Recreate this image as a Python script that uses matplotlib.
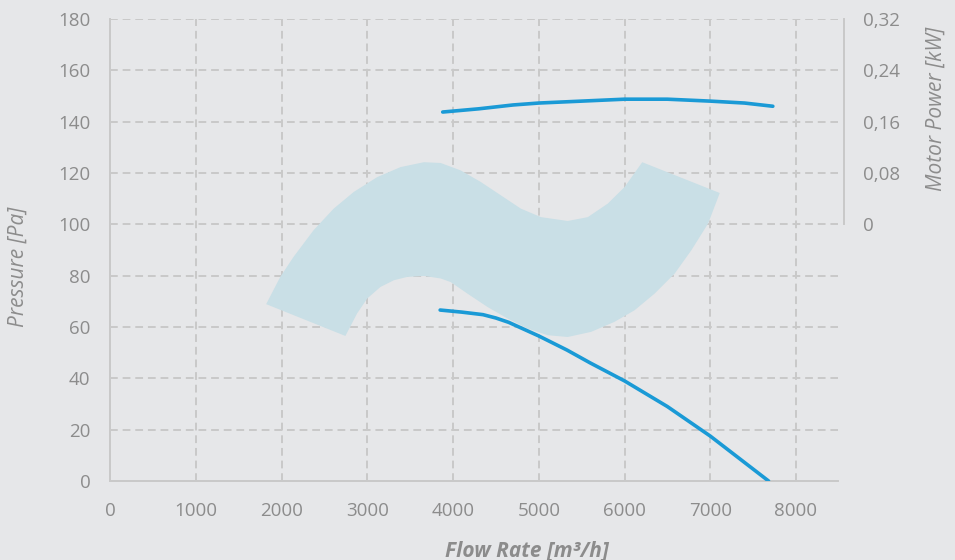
import matplotlib

matplotlib.use("Agg")
import matplotlib.pyplot as plt

plt.rcParams["font.family"] = ["Open Sans", "DejaVu Sans"]

BG = "#e6e7e9"
GRID = "#c9c9c9"
TEXT = "#8c8c8c"
BLUE = "#1a9ad6"
ZONE = "#c9dfe6"

# pressure curve, Pa over m3/h
flow = [3850, 4100, 4350, 4500, 4650, 5000, 5330, 5600, 6000, 6500, 7000, 7680]
pressure = [66.6, 65.8, 64.8, 63.5, 61.8, 56.5, 51.0, 46.0, 39.0, 29.0, 17.5, 0.0]

# motor power curve, kW
power_flow = [3880, 4300, 4700, 5000, 5500, 6000, 6500, 7000, 7400, 7730]
power = [0.175, 0.180, 0.186, 0.189, 0.192, 0.195, 0.195, 0.192, 0.189, 0.184]

# efficient operating zone outline (upper edge left to right, then lower edge back)
zone_flow = [1821, 1985, 2140, 2374, 2608, 2842, 3116, 3388, 3661, 3856, 4090, 4324, 4558,
             4792, 5026, 5338, 5572, 5806, 6000, 6207,
             7111, 6975, 6780, 6585, 6351, 6117, 5883, 5611, 5338, 5104, 4870, 4636,
             4402, 4168, 3973, 3856, 3661, 3466, 3310, 3154, 3000, 2882, 2745]
zone_pressure = [68.9, 79.5, 87.3, 97.7, 106.1, 112.6, 118.4, 122.3, 124.2, 123.9, 121.0, 116.5, 111.3,
                 106.1, 102.8, 101.3, 102.8, 108.1, 114.5, 124.2,
                 112.2, 100.3, 89.9, 80.8, 73.0, 66.5, 62.0, 58.1, 56.1, 56.8, 59.4, 63.3,
                 67.8, 73.0, 77.5, 78.9, 79.9, 79.5, 78.2, 75.6, 71.1, 65.3, 56.5]

x_ticks = [0, 1000, 2000, 3000, 4000, 5000, 6000, 7000, 8000]
y_ticks = [0, 20, 40, 60, 80, 100, 120, 140, 160, 180]
power_ticks = [0, 0.08, 0.16, 0.24, 0.32]
power_labels = ["0", "0,08", "0,16", "0,24", "0,32"]


def main() -> None:
    fig = plt.figure(figsize=(9.55, 5.6), dpi=100, facecolor=BG)
    ax = fig.add_axes([0.1152, 0.1411, 0.7623, 0.825], facecolor=BG)

    ax.fill(zone_flow, zone_pressure, color=ZONE, lw=0, zorder=1)
    ax.plot(flow, pressure, color=BLUE, lw=2.6, solid_capstyle="round", solid_joinstyle="round", zorder=3)

    ax.set_xlim(0, 8490)
    ax.set_ylim(0, 180)
    ax.set_xticks(x_ticks)
    ax.set_yticks(y_ticks)
    ax.grid(True, color=GRID, linestyle=(0, (4, 2.5)), lw=1.4, zorder=0)
    ax.set_axisbelow(True)
    for side in ("top", "right"):
        ax.spines[side].set_visible(False)
    for side in ("left", "bottom"):
        ax.spines[side].set_color(GRID)
        ax.spines[side].set_linewidth(1.4)
    ax.tick_params(length=0, labelsize=13.5, labelcolor=TEXT)
    ax.tick_params(axis="y", pad=14)
    ax.tick_params(axis="x", pad=15)

    ax.set_xlabel("Flow Rate [m³/h]", fontsize=15, color=TEXT, style="italic", fontweight="bold")
    ax.xaxis.set_label_coords(0.573, -0.128)
    ax.set_ylabel("Pressure [Pa]", fontsize=15, color=TEXT, style="italic")
    ax.yaxis.set_label_coords(-0.112, 0.463)

    # power axis sits on the upper part of the plot (0 kW at 100 Pa)
    pax = ax.twinx()
    pax.set_ylim(-0.4, 0.32)
    pax.plot(power_flow, power, color=BLUE, lw=2.6, solid_capstyle="round", solid_joinstyle="round", zorder=3)
    pax.set_yticks(power_ticks)
    pax.set_yticklabels(power_labels)
    for side in ("top", "left", "bottom"):
        pax.spines[side].set_visible(False)
    pax.spines["right"].set_bounds(0, 0.32)
    pax.spines["right"].set_position(("outward", 4))
    pax.spines["right"].set_color(GRID)
    pax.spines["right"].set_linewidth(1.4)
    pax.tick_params(length=0, labelsize=13.5, labelcolor=TEXT, pad=14)
    pax.set_ylabel("Motor Power [kW]", fontsize=15, color=TEXT, style="italic")
    pax.yaxis.set_label_coords(1.12, 0.805)

    fig.savefig("out.png", dpi=100, facecolor=BG)
    plt.close(fig)


if __name__ == "__main__":
    main()
